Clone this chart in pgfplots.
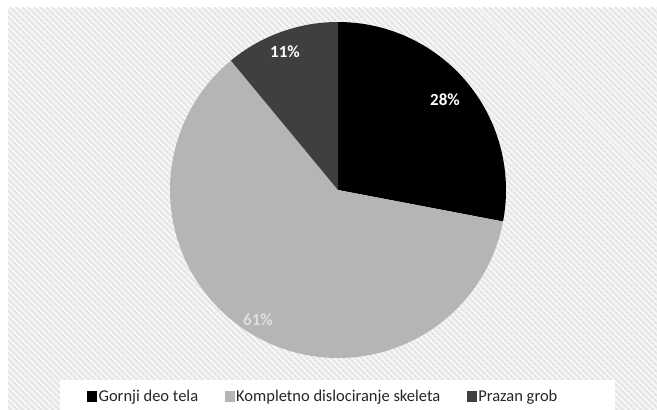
\documentclass[border=0pt]{standalone}
\usepackage{pgfplots}
\pgfplotsset{compat=1.18}
\usepackage{fontspec}
\setmainfont{Carlito}
\usetikzlibrary{patterns.meta}
\definecolor{sliceA}{HTML}{000000}
\definecolor{sliceB}{HTML}{B5B5B5}
\definecolor{sliceC}{HTML}{3F3F3F}
\definecolor{bgstripe}{HTML}{DEDEDE}
\begin{document}
\begin{tikzpicture}[x=1pt,y=1pt]
% data (percent)
\def\vA{28}\def\vB{61}\def\vC{11}
\pgfmathsetmacro{\aS}{90}
\pgfmathsetmacro{\aA}{90-3.6*\vA}
\pgfmathsetmacro{\aB}{\aA-3.6*\vB}
\pgfmathsetmacro{\aC}{\aB-3.6*\vC}
% background
\fill[white] (0,0) rectangle (657,410);
\fill[white!96!black] (8,0) rectangle (657,402);
\fill[pattern={Lines[angle=-45,distance=4pt,line width=1.4pt]}, pattern color=bgstripe] (8,0) rectangle (657,402);
\fill[white] (60,0) rectangle (615,30);
\begin{axis}[at={(0,0)}, anchor=south west, scale only axis,
  width=657pt, height=410pt, xmin=0, xmax=657, ymin=0, ymax=410,
  hide axis, clip=false,
  legend columns=3,
  legend image code/.code={\fill[#1] (0pt,-5.5pt) rectangle (10pt,5.5pt);},
  legend style={at={(axis cs:323,13)}, anchor=center, draw=none, fill=none,
    font=\fontsize{16.5}{18}\selectfont, text=black!85,
    nodes={inner xsep=1.5pt},
    /tikz/every even column/.append style={column sep=25pt}},
]
\addplot[fill=sliceA, draw=none, domain=\aA:\aS, samples=90]
  ({338+168*cos(x)},{220+168*sin(x)}) -- (axis cs:338,220) -- cycle;
\addlegendentry{Gornji deo tela}
\addplot[fill=sliceB, draw=none, domain=\aB:\aA, samples=150]
  ({338+168*cos(x)},{220+168*sin(x)}) -- (axis cs:338,220) -- cycle;
\addlegendentry{Kompletno dislociranje skeleta}
\addplot[fill=sliceC, draw=none, domain=\aC:\aB, samples=40]
  ({338+168*cos(x)},{220+168*sin(x)}) -- (axis cs:338,220) -- cycle;
\addlegendentry{Prazan grob}
\node[text=white, font=\bfseries\fontsize{17}{19}\selectfont] at (axis cs:445,310) {28\%};
\node[text=white, font=\bfseries\fontsize{17}{19}\selectfont] at (axis cs:285,358) {11\%};
\node[text=white!88!black, font=\bfseries\fontsize{17}{19}\selectfont] at (axis cs:258,90) {61\%};
\end{axis}
\end{tikzpicture}
\end{document}
